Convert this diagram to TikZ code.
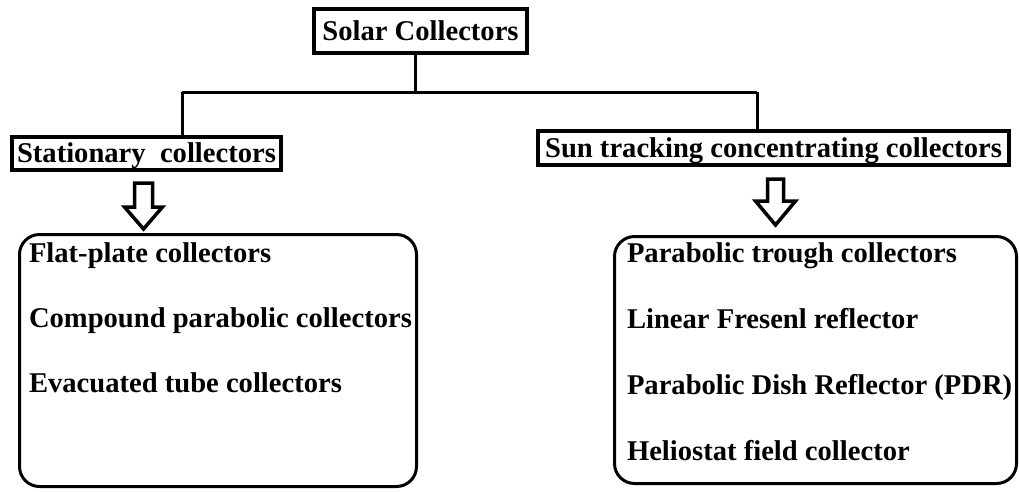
\documentclass[tikz,border=0pt]{standalone}
\usepackage{fontspec}
\setmainfont{Liberation Serif}
\begin{document}
\begin{tikzpicture}[x=1pt,y=-1pt,
  every node/.style={font=\fontsize{28.6}{34}\selectfont\bfseries, inner sep=0pt, outer sep=0pt},
  headbox/.style={draw, line width=4pt, fill=white, text height=18.9pt, text depth=0pt},
  itembox/.style={draw, line width=3pt, rounded corners=20pt, anchor=north west},
  item/.style={anchor=base west},
  bus/.style={line width=3pt},
  hollow/.style={draw, line width=3.5pt, line join=miter, fill=white}]
\useasboundingbox (0,0) rectangle (1020,491);

% category headings
\node[headbox, minimum width=213pt, minimum height=44pt] (top) at (420.5,31) {Solar Collectors};
\node[headbox, minimum width=269pt, minimum height=33pt] (stat) at (146.5,153.5) {Stationary\ \ collectors};
\node[headbox, minimum width=471pt, minimum height=34pt] (sun) at (773.5,148) {Sun tracking concentrating collectors};

% tree connectors
\coordinate (busL) at (182,92);
\coordinate (busM) at (415,92);
\coordinate (busR) at (757,92);
\draw[bus] (busL) -- (busR);
\draw[bus] (busM) -- (busM |- top.south);
\draw[bus] (busL) -- (busL |- stat.north);
\draw[bus] (busR) -- (busR |- sun.north);

% lists of collector types
\node[itembox, minimum width=397pt, minimum height=252pt] (lbox) at (19.5,234.5) {};
\node[itembox, minimum width=402pt, minimum height=247pt] (rbox) at (614.5,236.5) {};

\node[item] (l1) at (29,262) {Flat-plate collectors};
\node[item] (l2) at (29,327) {Compound parabolic collectors};
\node[item] (l3) at (29,392) {Evacuated tube collectors};

\node[item] (r1) at (627,262) {Parabolic trough collectors};
\node[item] (r2) at (627,328) {Linear Fresenl reflector};
\node[item] (r3) at (627,394) {Parabolic Dish Reflector (PDR)};
\node[item] (r4) at (627,460) {Heliostat field collector};

% hollow down arrows
\coordinate (aL) at (143.5,229);
\draw[hollow] (aL) -- ++(-19,-22) -- ++(10,0) -- ++(0,-24) -- ++(18,0) -- ++(0,24) -- ++(10,0) -- cycle;
\coordinate (aR) at (775.5,225);
\draw[hollow] (aR) -- ++(-20,-24) -- ++(12,0) -- ++(0,-22) -- ++(16,0) -- ++(0,22) -- ++(12,0) -- cycle;
\end{tikzpicture}
\end{document}
